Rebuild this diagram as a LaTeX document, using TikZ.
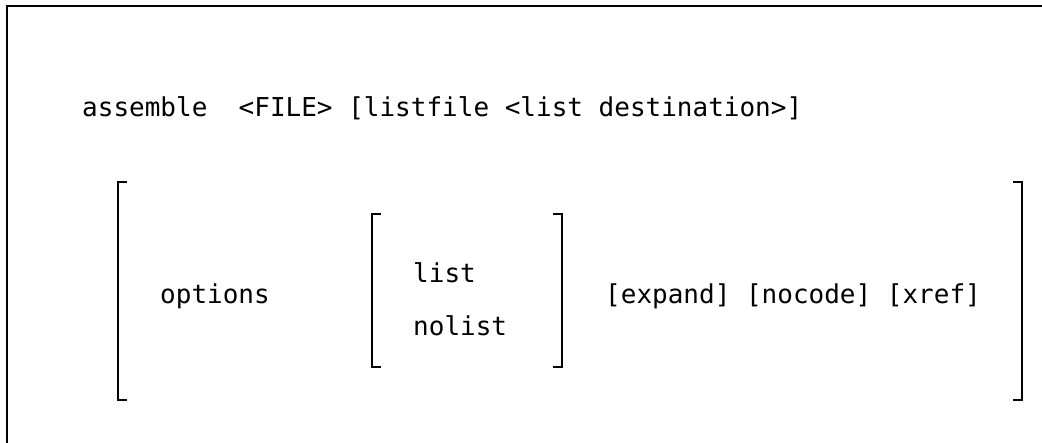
\documentclass[tikz,border=0pt]{standalone}
\usepackage{fontspec}
\setmonofont{DejaVu Sans Mono}
\begin{document}
\begin{tikzpicture}[x=1pt,y=-1pt,
  txt/.style={anchor=base west,inner sep=0pt,font=\ttfamily\fontsize{26}{30}\selectfont},
  brk/.style={line width=2.2pt,line cap=butt,line join=miter},
  frm/.style={line width=2pt}]
\useasboundingbox[fill=white] (0,0) rectangle (1042,442);
% frame (top and left edges)
\draw[frm] (7,450) -- (7,6) -- (1050,6);
% text
\node[txt] (cmd) at (82,116) {assemble~~<FILE>~[listfile~<list~destination>]};
\node[txt] (opt) at (160,303) {options};
\node[txt] (lst) at (413,282) {list};
\node[txt] (nol) at (413,335) {nolist};
\node[txt] (ext) at (605,303) {[expand]~[nocode]~[xref]};
% outer brackets
\draw[brk] (127,182) -- (118,182) -- (118,400) -- (127,400);
\draw[brk] (1013,182) -- (1022,182) -- (1022,400) -- (1013,400);
% inner brackets
\draw[brk] (381,214) -- (372,214) -- (372,367) -- (381,367);
\draw[brk] (553,214) -- (562,214) -- (562,367) -- (553,367);
\end{tikzpicture}
\end{document}
